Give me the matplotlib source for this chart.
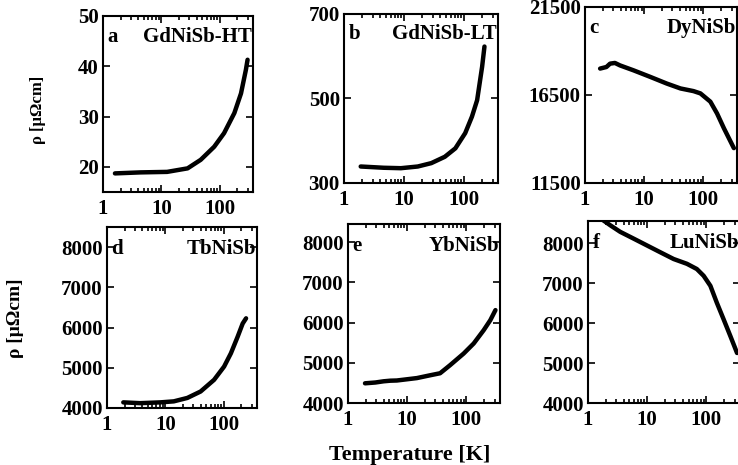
"""
Resistivity vs temperature for six RNiSb compounds (log T axis)
"""
import matplotlib
matplotlib.use('Agg')
import matplotlib.pyplot as plt
from matplotlib.ticker import LogLocator, FixedLocator, FuncFormatter, NullFormatter

plt.rcParams['font.family'] = ['Liberation Serif', 'DejaVu Serif']
plt.rcParams['font.weight'] = 'bold'

# ---- data: T in K, rho in µΩcm ----
t_a = [1.6, 4.4, 12.5, 28, 47, 80, 118, 177, 230, 279, 298]
rho_a = [18.7, 18.9, 19.0, 19.7, 21.4, 24.0, 26.7, 30.7, 34.6, 39.3, 41.3]

t_b = [1.9, 4.6, 8.9, 17, 28.6, 48, 72, 105, 136, 166, 201, 220]
rho_b = [339, 336, 335, 339, 347, 362, 382, 418, 457, 496, 575, 623]

t_c = [1.8, 2.3, 2.65, 3.2, 3.9, 6.6, 12.6, 24, 41, 68, 89, 131, 170, 222, 287, 327]
rho_c = [18000, 18090, 18280, 18320, 18180, 17900, 17530, 17150, 16870, 16720,
         16590, 16120, 15450, 14610, 13860, 13480]

t_d = [1.9, 3.7, 8.2, 13.9, 23.7, 40, 68, 101, 132, 172, 210, 240]
rho_d = [4140, 4120, 4140, 4165, 4250, 4410, 4700, 5030, 5360, 5770, 6100, 6230]

t_e = [1.94, 2.9, 4.0, 5.2, 6.7, 9.9, 14.6, 24.5, 36, 53, 90, 133, 196, 254, 310]
rho_e = [4490, 4510, 4540, 4555, 4560, 4590, 4620, 4690, 4740, 4940, 5230,
         5480, 5810, 6060, 6310]

t_f = [1.8, 2.4, 3.5, 5.9, 9.9, 16.6, 28, 47, 69, 90, 117, 150, 196, 255, 330]
rho_f = [8570, 8440, 8280, 8110, 7940, 7770, 7600, 7480, 7350, 7180, 6930,
         6510, 6090, 5670, 5250]

letters = ['a', 'b', 'c', 'd', 'e', 'f']
names = ['GdNiSb-HT', 'GdNiSb-LT', 'DyNiSb', 'TbNiSb', 'YbNiSb', 'LuNiSb']
ylims = [(15, 50), (300, 700), (11500, 21500), (4000, 8500), (4000, 8450), (4000, 8550)]
yticks = [[20, 30, 40, 50], [300, 500, 700], [11500, 16500, 21500],
          [4000, 5000, 6000, 7000, 8000], [4000, 5000, 6000, 7000, 8000],
          [4000, 5000, 6000, 7000, 8000]]
series = [(t_a, rho_a), (t_b, rho_b), (t_c, rho_c), (t_d, rho_d), (t_e, rho_e), (t_f, rho_f)]

# axes boxes in figure fraction (left, bottom, width, height)
boxes = [
    [0.1396, 0.5871, 0.2033, 0.3785],
    [0.4661, 0.6065, 0.2087, 0.3634],
    [0.7927, 0.6065, 0.2060, 0.3785],
    [0.1450, 0.1226, 0.2033, 0.3892],
    [0.4715, 0.1333, 0.2060, 0.3849],
    [0.7967, 0.1333, 0.2060, 0.3914],
]

fig = plt.figure(figsize=(7.38, 4.65), dpi=100)

for i in range(6):
    ax = fig.add_axes(boxes[i])
    t, rho = series[i]
    ax.plot(t, rho, color='black', linewidth=3.2, solid_capstyle='round',
            solid_joinstyle='round')
    ax.set_xscale('log')
    ax.set_xlim(1, 370)
    ax.set_ylim(*ylims[i])
    ax.xaxis.set_major_locator(FixedLocator([1, 10, 100]))
    ax.xaxis.set_minor_locator(LogLocator(base=10, subs=range(2, 10)))
    ax.xaxis.set_major_formatter(FuncFormatter(lambda x, p: f'{int(round(x))}'))
    ax.xaxis.set_minor_formatter(NullFormatter())
    ax.set_yticks(yticks[i])
    ax.tick_params(which='both', direction='in', top=True, right=True, width=1.2)
    ax.tick_params(which='major', length=5, labelsize=15)
    ax.tick_params(axis='x', which='major', pad=5)
    ax.tick_params(axis='y', which='major', pad=3)
    ax.tick_params(which='minor', length=3)
    for s in ax.spines.values():
        s.set_linewidth(1.5)
    for lab in ax.get_xticklabels() + ax.get_yticklabels():
        lab.set_fontweight('bold')
    ax.text(0.03, 0.88, letters[i], transform=ax.transAxes, ha='left', va='center',
            fontsize=15, fontweight='bold')
    ax.text(0.995, 0.88, names[i], transform=ax.transAxes, ha='right', va='center',
            fontsize=15, fontweight='bold')

fig.text(38 / 738, 1 - 110 / 465, 'ρ [μΩcm]', rotation=90, ha='center', va='center',
         fontsize=12, fontweight='bold')
fig.text(15 / 738, 1 - 318 / 465, 'ρ [μΩcm]', rotation=90, ha='center', va='center',
         fontsize=14, fontweight='bold')
fig.text(410 / 738, 1 - 455 / 465, 'Temperature [K]', ha='center', va='center',
         fontsize=16, fontweight='bold')

plt.savefig('out.png', dpi=100)
plt.close(fig)
